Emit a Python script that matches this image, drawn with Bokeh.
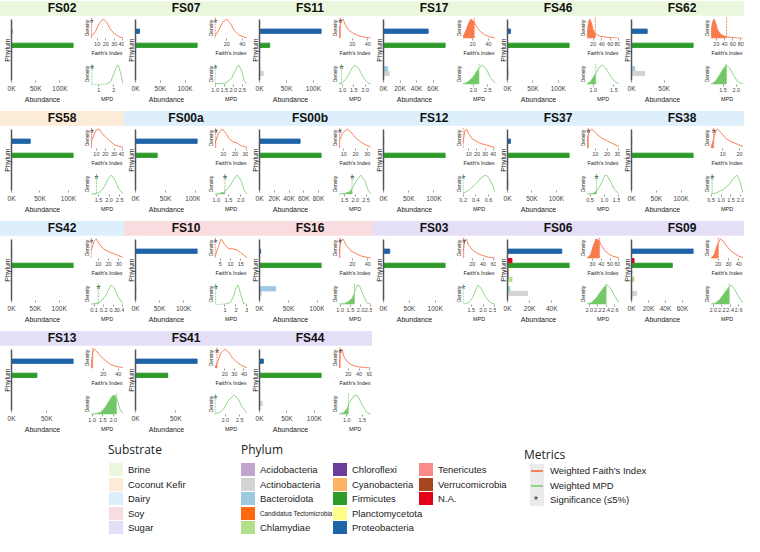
from bokeh.plotting import figure
from bokeh.models import FactorRange, Range1d, FixedTicker, Span, Div, ColumnDataSource, LinearAxis
from bokeh.layouts import row, column
from bokeh.embed import file_html
from bokeh.resources import INLINE
from bokeh.core.properties import value

# ---------------- data ----------------
samples = ["FS02", "FS07", "FS11", "FS17", "FS46", "FS62",
           "FS58", "FS00a", "FS00b", "FS12", "FS37", "FS38",
           "FS42", "FS10", "FS16", "FS03", "FS06", "FS09",
           "FS13", "FS41", "FS44"]
sample_substrate = ["Brine", "Brine", "Brine", "Brine", "Brine", "Brine",
                    "Coconut Kefir", "Dairy", "Dairy", "Dairy", "Dairy", "Dairy",
                    "Dairy", "Soy", "Soy", "Sugar", "Sugar", "Sugar",
                    "Sugar", "Sugar", "Sugar"]
substrates = ["Brine", "Coconut Kefir", "Dairy", "Soy", "Sugar"]
substrate_colors = ["#EAF7DC", "#FCEBD7", "#DCEFFA", "#F9DCDF", "#E4DEF7"]

# phyla, bottom -> top on the bar charts
phyla = ["Acidobacteria", "Actinobacteria", "Bacteroidota", "Candidatus Tectomicrobia",
         "Chlamydiae", "Chloroflexi", "Cyanobacteria", "Firmicutes", "N.A.",
         "Planctomycetota", "Proteobacteria", "Tenericutes", "Verrucomicrobia"]
phylum_colors = ["#C2A5CF", "#D3D3D3", "#9ECAE1", "#FF6A10", "#B2DF8A", "#6A3D9A",
                 "#FDB462", "#2E9A2A", "#E3001B", "#FFFF88", "#1F63A8", "#FB8A8A", "#A8461E"]

# abundance (thousands of reads), one value per sample in `samples` order
acidobacteria   = [0, 0, 0, 0, 0, 0, 0, 0, 0, 0, 0, 0, 0, 0, 0, 0, 0, 0, 0, 0, 0]
actinobacteria  = [0, 0.5, 7, 7, 2, 20, 0, 0, 0.3, 0.3, 1.5, 0, 0, 0.3, 3, 0.5, 18, 6, 0.3, 0, 5]
bacteroidota    = [0, 0, 0.5, 5, 0.3, 5, 0, 0, 0, 0, 0.3, 0, 0, 1, 28, 0, 2, 0, 0, 0, 0.3]
candidatus      = [0, 0, 0, 0, 0, 0, 0, 0, 0, 0, 0, 0, 0, 0, 0, 0, 0, 0, 0, 0, 0]
chlamydiae      = [0, 0, 0, 0, 0, 0, 0, 0, 0, 0, 0, 0, 0, 0, 0, 0, 4, 3, 0, 0, 0]
chloroflexi     = [0, 0, 0, 0, 0, 0, 0, 0, 0, 0, 0, 0, 0, 0, 0, 0, 0.5, 0, 0, 0, 0]
cyanobacteria   = [0, 0, 0, 0, 0, 0, 0, 0, 0, 0, 0, 0, 0, 0, 0, 0, 1, 0, 0, 0, 0]
firmicutes      = [128, 125, 19, 75, 122, 95, 109, 36, 84, 123, 127, 125, 130, 0, 107, 120, 56, 48, 36, 40, 113]
not_assigned    = [0, 0, 0, 0, 0, 0, 0, 0, 0, 0, 0, 0, 0, 0, 0, 0, 4, 3, 0, 0, 0]
planctomycetota = [0, 0, 0, 0, 0, 0, 0, 0, 0, 0, 0, 0, 0, 0, 0, 0, 0, 0, 0, 0, 0]
proteobacteria  = [1, 8, 115, 54, 6, 24, 33, 103, 55, 0.3, 6, 0.3, 0.3, 129, 2, 12, 49, 73, 88, 77, 7]
tenericutes     = [0, 0, 0, 0, 0, 0, 0, 0, 0, 0, 0, 0, 0, 0, 0, 0, 0, 0, 0, 0, 0]
verrucomicrobia = [0, 0, 0, 0, 0, 0, 0, 0, 0, 0, 0, 0, 0, 0, 0, 0, 0, 0, 0, 0, 0]
abundance_by_phylum = [acidobacteria, actinobacteria, bacteroidota, candidatus, chlamydiae,
                       chloroflexi, cyanobacteria, firmicutes, not_assigned, planctomycetota,
                       proteobacteria, tenericutes, verrucomicrobia]

abund_ticks = {
    "FS02": ["0K", "50K", "100K"], "FS07": ["0K", "50K", "100K"], "FS11": ["0K", "50K", "100K"],
    "FS17": ["0K", "20K", "40K", "60K"], "FS46": ["0K", "50K", "100K"], "FS62": ["0K", "50K"],
    "FS58": ["0K", "50K", "100K"], "FS00a": ["0K", "50K", "100K"], "FS00b": ["0K", "20K", "40K", "60K", "80K"],
    "FS12": ["0K", "50K", "100K"], "FS37": ["0K", "50K", "100K"], "FS38": ["0K", "50K", "100K"],
    "FS42": ["0K", "50K", "100K"], "FS10": ["0K", "50K", "100K"], "FS16": ["0K", "50K", "100K"],
    "FS03": ["0K", "50K", "100K"], "FS06": ["0K", "20K", "40K"], "FS09": ["0K", "20K", "40K", "60K"],
    "FS13": ["0K", "50K"], "FS41": ["0K", "50K"], "FS44": ["0K", "50K", "100K"],
}

# Weighted Faith's index null densities (x, relative density), observed value, significance
faith_x = {
    "FS02": [3, 8, 12, 17, 21, 25, 30, 35, 40],
    "FS07": [5, 10, 15, 20, 25, 30, 35, 40, 46],
    "FS11": [3, 6, 8, 11, 15, 20, 25, 30, 38, 44],
    "FS17": [8, 12, 15, 18, 21, 25, 30, 35, 42, 48],
    "FS46": [6, 9, 12, 16, 20, 25, 35, 50, 65, 80],
    "FS62": [7, 10, 14, 18, 23, 30, 40, 55, 70, 85],
    "FS58": [4, 7, 10, 13, 16, 20, 25, 30, 35, 40],
    "FS00a": [3, 6, 9, 12, 15, 18, 21, 25, 30],
    "FS00b": [6, 9, 13, 16, 20, 24, 28, 33],
    "FS12": [3, 5, 7, 10, 14, 20, 25, 30, 36, 42],
    "FS37": [3, 5, 7, 10, 15, 20, 25, 30],
    "FS38": [3, 4.5, 6, 7, 9, 12, 15, 18, 22],
    "FS42": [3, 6, 8, 11, 15, 20, 25, 30, 34],
    "FS10": [2.5, 4, 5.5, 7, 9, 11, 13, 15, 18],
    "FS16": [3, 5, 8, 12, 18, 25, 32, 40, 44],
    "FS03": [3, 6, 9, 13, 20, 30, 40, 50, 62],
    "FS06": [24, 28, 31, 34, 37, 40, 44, 48, 53, 60],
    "FS09": [13, 16, 19, 22, 25, 28, 32, 36, 40, 44],
    "FS13": [4, 6, 8, 11, 15, 20, 25, 30, 38, 46],
    "FS41": [10, 13, 16, 20, 24, 28, 32, 36, 40, 43],
    "FS44": [3, 5, 7, 9, 12, 18, 25, 35, 50, 62],
}
faith_y = {
    "FS02": [0.1, 0.35, 0.75, 1.0, 0.85, 0.5, 0.25, 0.1, 0.03],
    "FS07": [0.15, 0.45, 0.85, 1.0, 0.75, 0.4, 0.2, 0.1, 0.03],
    "FS11": [0.5, 0.95, 1.0, 0.7, 0.45, 0.3, 0.2, 0.12, 0.05, 0.02],
    "FS17": [0.1, 0.45, 0.8, 1.0, 0.9, 0.6, 0.35, 0.2, 0.08, 0.03],
    "FS46": [0.2, 0.8, 1.0, 0.8, 0.45, 0.25, 0.12, 0.07, 0.04, 0.01],
    "FS62": [0.3, 0.8, 1.0, 0.8, 0.45, 0.22, 0.12, 0.06, 0.03, 0.01],
    "FS58": [0.3, 0.7, 0.95, 1.0, 0.8, 0.6, 0.4, 0.2, 0.12, 0.06],
    "FS00a": [0.3, 0.8, 1.0, 0.8, 0.5, 0.35, 0.3, 0.15, 0.05],
    "FS00b": [0.4, 0.8, 1.0, 0.85, 0.55, 0.35, 0.2, 0.08],
    "FS12": [0.3, 0.9, 1.0, 0.75, 0.5, 0.35, 0.25, 0.2, 0.12, 0.05],
    "FS37": [0.5, 0.9, 1.0, 0.8, 0.55, 0.4, 0.25, 0.1],
    "FS38": [0.05, 0.5, 0.95, 1.0, 0.8, 0.5, 0.35, 0.25, 0.1],
    "FS42": [0.4, 0.9, 1.0, 0.75, 0.5, 0.35, 0.25, 0.15, 0.05],
    "FS10": [0.1, 0.6, 1.0, 0.75, 0.5, 0.5, 0.45, 0.3, 0.05],
    "FS16": [0.3, 0.9, 1.0, 0.7, 0.4, 0.25, 0.12, 0.05, 0.02],
    "FS03": [0.4, 0.9, 1.0, 0.7, 0.45, 0.25, 0.15, 0.07, 0.02],
    "FS06": [0.02, 0.2, 0.65, 1.0, 0.95, 0.7, 0.4, 0.25, 0.12, 0.04],
    "FS09": [0.02, 0.2, 0.7, 1.0, 0.9, 0.65, 0.4, 0.25, 0.12, 0.05],
    "FS13": [0.2, 0.8, 1.0, 0.9, 0.7, 0.5, 0.35, 0.2, 0.1, 0.05],
    "FS41": [0.05, 0.4, 0.8, 1.0, 0.85, 0.55, 0.35, 0.2, 0.1, 0.05],
    "FS44": [0.3, 0.8, 1.0, 0.95, 0.6, 0.35, 0.2, 0.1, 0.05, 0.02],
}
faith_obs = {"FS02": 3.5, "FS07": 5, "FS11": 4.5, "FS17": 22, "FS46": 25, "FS62": 45,
             "FS58": 4.5, "FS00a": 3.5, "FS00b": 6.5, "FS12": 3, "FS37": 4, "FS38": 4.5,
             "FS42": 3, "FS10": 2.5, "FS16": 4, "FS03": 4, "FS06": 38, "FS09": 20,
             "FS13": 6, "FS41": 12, "FS44": 5}
faith_sig = {"FS02": 1, "FS07": 1, "FS11": 1, "FS17": 0, "FS46": 0, "FS62": 0,
             "FS58": 1, "FS00a": 1, "FS00b": 1, "FS12": 0, "FS37": 1, "FS38": 1,
             "FS42": 1, "FS10": 1, "FS16": 1, "FS03": 1, "FS06": 0, "FS09": 0,
             "FS13": 0, "FS41": 1, "FS44": 1}
faith_ticks = {
    "FS02": ["10", "20", "30", "40"], "FS07": ["20", "40"], "FS11": ["20", "40"],
    "FS17": ["20", "40"], "FS46": ["20", "40", "60", "80"], "FS62": ["20", "40", "60", "80"],
    "FS58": ["10", "20", "30", "40"], "FS00a": ["10", "20", "30"], "FS00b": ["10", "20", "30"],
    "FS12": ["10", "20", "30", "40"], "FS37": ["10", "20", "30"], "FS38": ["10", "20"],
    "FS42": ["10", "20", "30"], "FS10": ["5", "10", "15"], "FS16": ["20", "40"],
    "FS03": ["20", "40", "60"], "FS06": ["30", "40", "50", "60"], "FS09": ["20", "30", "40"],
    "FS13": ["20", "40"], "FS41": ["20", "30", "40"], "FS44": ["20", "40", "60"],
}

# Weighted MPD null densities
mpd_x = {
    "FS02": [0.5, 1.0, 1.5, 1.8, 2.0, 2.2, 2.3, 2.45, 2.6],
    "FS07": [1.0, 1.3, 1.6, 1.9, 2.1, 2.3, 2.45, 2.6, 2.75],
    "FS11": [0.85, 1.0, 1.2, 1.4, 1.55, 1.7, 1.9, 2.1, 2.25],
    "FS17": [1.65, 1.8, 2.0, 2.15, 2.3, 2.45, 2.6, 2.75],
    "FS46": [0.85, 0.95, 1.05, 1.15, 1.22, 1.3, 1.4, 1.5, 1.62],
    "FS62": [1.05, 1.2, 1.35, 1.5, 1.62, 1.75, 1.9, 2.05, 2.25],
    "FS58": [1.15, 1.4, 1.6, 1.8, 1.95, 2.1, 2.25, 2.45, 2.65],
    "FS00a": [0.95, 1.1, 1.3, 1.5, 1.7, 1.85, 2.0, 2.15, 2.25],
    "FS00b": [1.25, 1.5, 1.75, 1.9, 2.05, 2.25, 2.45, 2.6, 2.72],
    "FS12": [0.2, 0.3, 0.4, 0.5, 0.55, 0.6, 0.66, 0.7],
    "FS37": [0.4, 0.6, 0.75, 0.9, 1.0, 1.08, 1.2, 1.35, 1.5],
    "FS38": [0.5, 0.8, 1.1, 1.4, 1.6, 1.8, 1.95, 2.1],
    "FS42": [0.07, 0.12, 0.17, 0.22, 0.26, 0.28, 0.31, 0.35, 0.4],
    "FS10": [0.1, 0.5, 1.0, 1.5, 1.8, 2.0, 2.2, 2.45, 2.7, 3.0],
    "FS16": [0.95, 1.2, 1.4, 1.6, 1.75, 1.85, 1.95, 2.1, 2.3, 2.5],
    "FS03": [1.2, 1.4, 1.55, 1.7, 1.78, 1.9, 2.1, 2.3, 2.5],
    "FS06": [1.95, 2.05, 2.15, 2.25, 2.35, 2.42, 2.5, 2.6, 2.7],
    "FS09": [1.95, 2.05, 2.15, 2.25, 2.35, 2.42, 2.5, 2.6, 2.7],
    "FS13": [0.95, 1.2, 1.4, 1.6, 1.8, 1.95, 2.05, 2.15, 2.3, 2.45],
    "FS41": [1.65, 1.8, 1.95, 2.1, 2.3, 2.45, 2.6, 2.75],
    "FS44": [0.75, 0.9, 1.0, 1.1, 1.25, 1.35, 1.5, 1.65, 1.78],
}
mpd_y = {
    "FS02": [0.0, 0.0, 0.02, 0.15, 0.55, 0.95, 1.0, 0.6, 0.05],
    "FS07": [0.05, 0.05, 0.08, 0.3, 0.7, 1.0, 0.75, 0.2, 0.02],
    "FS11": [0.03, 0.1, 0.35, 0.8, 1.0, 0.85, 0.4, 0.1, 0.02],
    "FS17": [0.03, 0.12, 0.4, 0.75, 1.0, 0.8, 0.35, 0.08],
    "FS46": [0.03, 0.2, 0.55, 0.9, 1.0, 0.85, 0.5, 0.2, 0.03],
    "FS62": [0.02, 0.15, 0.45, 0.8, 1.0, 0.85, 0.45, 0.15, 0.02],
    "FS58": [0.02, 0.05, 0.15, 0.45, 0.8, 1.0, 0.8, 0.3, 0.05],
    "FS00a": [0.02, 0.05, 0.12, 0.35, 0.75, 1.0, 0.75, 0.2, 0.03],
    "FS00b": [0.03, 0.05, 0.15, 0.4, 0.7, 1.0, 0.7, 0.2, 0.03],
    "FS12": [0.05, 0.25, 0.55, 0.9, 1.0, 0.9, 0.5, 0.15],
    "FS37": [0.02, 0.05, 0.2, 0.6, 0.95, 1.0, 0.7, 0.25, 0.03],
    "FS38": [0.02, 0.1, 0.25, 0.5, 0.8, 1.0, 0.7, 0.1],
    "FS42": [0.02, 0.05, 0.15, 0.45, 0.85, 1.0, 0.85, 0.4, 0.05],
    "FS10": [0.0, 0.0, 0.02, 0.1, 0.45, 0.85, 1.0, 0.5, 0.05, 0.0],
    "FS16": [0.02, 0.05, 0.15, 0.35, 0.75, 1.0, 0.95, 0.55, 0.1, 0.01],
    "FS03": [0.02, 0.1, 0.35, 0.8, 1.0, 0.85, 0.4, 0.1, 0.01],
    "FS06": [0.02, 0.1, 0.3, 0.6, 0.9, 1.0, 0.85, 0.45, 0.1],
    "FS09": [0.02, 0.08, 0.25, 0.55, 0.85, 1.0, 0.8, 0.4, 0.08],
    "FS13": [0.02, 0.05, 0.12, 0.35, 0.7, 0.95, 1.0, 0.9, 0.3, 0.05],
    "FS41": [0.05, 0.1, 0.3, 0.7, 1.0, 0.8, 0.35, 0.08],
    "FS44": [0.02, 0.1, 0.3, 0.65, 1.0, 0.95, 0.5, 0.1, 0.02],
}
mpd_obs = {"FS02": 0.55, "FS07": 1.0, "FS11": 0.95, "FS17": 2.2, "FS46": 1.06, "FS62": 1.63,
           "FS58": 1.4, "FS00a": 1.35, "FS00b": 1.85, "FS12": 0.2, "FS37": 0.72, "FS38": 0.55,
           "FS42": 0.145, "FS10": 0.15, "FS16": 1.7, "FS03": 1.15, "FS06": 2.4, "FS09": 2.38,
           "FS13": 2.15, "FS41": 1.65, "FS44": 1.05}
mpd_sig = {"FS02": 1, "FS07": 1, "FS11": 1, "FS17": 0, "FS46": 0, "FS62": 0,
           "FS58": 1, "FS00a": 1, "FS00b": 1, "FS12": 1, "FS37": 1, "FS38": 1,
           "FS42": 1, "FS10": 1, "FS16": 0, "FS03": 1, "FS06": 0, "FS09": 0,
           "FS13": 0, "FS41": 1, "FS44": 0}
mpd_ticks = {
    "FS02": ["1", "2"], "FS07": ["1.0", "1.5", "2.0", "2.5"], "FS11": ["1.0", "1.5", "2.0"],
    "FS17": ["2.0", "2.5"], "FS46": ["1.0", "1.5"], "FS62": ["1.5", "2.0"],
    "FS58": ["1.5", "2.0", "2.5"], "FS00a": ["1.0", "1.5", "2.0"], "FS00b": ["1.5", "2.0", "2.5"],
    "FS12": ["0.2", "0.4", "0.6"], "FS37": ["0.5", "1.0", "1.5"], "FS38": ["0.5", "1.0", "1.5", "2.0"],
    "FS42": ["0.1", "0.2", "0.3", "0.4"], "FS10": ["1", "2", "3"], "FS16": ["1.0", "1.5", "2.0", "2.5"],
    "FS03": ["1.5", "2.0", "2.5"], "FS06": ["2.0", "2.2", "2.4", "2.6"], "FS09": ["2.0", "2.2", "2.4", "2.6"],
    "FS13": ["1.0", "1.5", "2.0", "2.5"], "FS41": ["2.0", "2.5"], "FS44": ["1.0", "1.5"],
}

FAITH_LINE, FAITH_FILL = "#F8825C", "#F97A4B"
MPD_LINE, MPD_FILL = "#90D68A", "#72C766"
FONT = "Liberation Sans"

PANEL_W = 124
BAR_W = 76
DEN_W = PANEL_W - BAR_W
HEAD_H = 15
BODY_H = 95


def style_axis(ax):
    ax.axis_label_text_font = FONT
    ax.major_label_text_font = FONT
    ax.axis_label_text_font_style = "normal"
    ax.axis_label_text_color = "#222222"
    ax.major_label_text_color = "#444444"


def bar_fig(i, name):
    ys, rights, cols = [], [], []
    for ph, col, arr in zip(phyla, phylum_colors, abundance_by_phylum):
        if arr[i] > 0:
            ys.append(ph)
            rights.append(arr[i] * 1000)
            cols.append(col)
    src = ColumnDataSource(dict(y=ys, right=rights, color=cols))
    xmax = max(rights)
    p = figure(width=BAR_W, height=BODY_H, y_range=FactorRange(factors=phyla),
               x_range=Range1d(0, xmax), y_axis_type=None,
               output_backend="svg", toolbar_location=None,
               min_border_left=10, min_border_right=3, min_border_top=4, min_border_bottom=30)
    p.outline_line_color = None
    p.hbar(y="y", left=0, right="right", height=0.9, color="color", source=src)
    p.grid.visible = False
    yax = LinearAxis(ticker=FixedTicker(ticks=[]), axis_label="Phylum",
                     axis_label_text_font_size="7px", axis_label_standoff=1,
                     axis_line_color="#555555", axis_line_width=1.5,
                     major_tick_line_color=None, minor_tick_line_color=None)
    style_axis(yax)
    p.add_layout(yax, "left")
    ticks = abund_ticks[name]
    vals = [float(t[:-1]) * 1000 for t in ticks]
    xa = p.xaxis[0]
    style_axis(xa)
    xa.ticker = FixedTicker(ticks=vals)
    xa.major_label_overrides = {v: t for v, t in zip(vals, ticks)}
    xa.major_label_text_font_size = "6.5px"
    xa.axis_label = "Abundance"
    xa.axis_label_text_font_size = "7px"
    xa.axis_label_standoff = 1
    xa.major_label_standoff = 2
    xa.axis_line_color = None
    xa.major_tick_line_color = "#999999"
    xa.major_tick_out = 2
    xa.major_tick_in = 0
    xa.minor_tick_line_color = None
    return p


def dens_fig(xs, ys, obs, sig, ticks, label, line_col, fill_col, height, top):
    p = figure(width=DEN_W, height=height, y_range=Range1d(0, 1.08), y_axis_type=None,
               output_backend="svg", toolbar_location=None,
               min_border_left=14, min_border_right=1, min_border_top=top, min_border_bottom=19)
    p.outline_line_color = None
    p.x_range.range_padding = 0.04
    # shaded area left of the observed value
    fx = [x for x in xs if x <= obs]
    fy = [y for x, y in zip(xs, ys) if x <= obs]
    if fx and obs < xs[-1]:
        k = len(fx)
        t = (obs - xs[k - 1]) / (xs[k] - xs[k - 1])
        fx.append(obs)
        fy.append(ys[k - 1] + t * (ys[k] - ys[k - 1]))
        p.varea(x=fx, y1=[0] * len(fx), y2=fy, fill_color=fill_col, fill_alpha=1.0)
    p.line(xs, ys, line_color=line_col, line_width=1)
    p.add_layout(Span(location=obs, dimension="height", line_color=line_col,
                      line_dash="2 1", line_width=1))
    if sig:
        p.text(x=[obs], y=[1.08], text=["*"], text_font=value(FONT), text_font_size="10px",
               text_align="center", text_baseline="top", text_color="#111111")
    else:
        p.scatter(x=[obs], y=[0.0], size=0, alpha=0)
    p.xgrid.visible = False
    p.ygrid.ticker = FixedTicker(ticks=[0.2, 0.4, 0.6, 0.8, 1.0])
    p.ygrid.grid_line_color = "#BBBBBB"
    p.ygrid.grid_line_dash = "1 2"
    p.ygrid.grid_line_width = 0.7
    yax = LinearAxis(ticker=FixedTicker(ticks=[]), axis_label="Density",
                     axis_label_text_font_size="5px", axis_label_standoff=1,
                     axis_line_color=None, major_tick_line_color=None, minor_tick_line_color=None)
    style_axis(yax)
    p.add_layout(yax, "left")
    vals = [float(t) for t in ticks]
    xa = p.xaxis[0]
    style_axis(xa)
    xa.ticker = FixedTicker(ticks=vals)
    xa.major_label_overrides = {v: t for v, t in zip(vals, ticks)}
    xa.major_label_text_font_size = "5.5px"
    xa.major_label_standoff = 1
    xa.axis_label = label
    xa.axis_label_text_font_size = "5.5px"
    xa.axis_label_standoff = 1
    xa.axis_line_color = None
    xa.major_tick_line_color = "#999999"
    xa.major_tick_out = 2
    xa.major_tick_in = 0
    xa.minor_tick_line_color = None
    return p


def panel(i):
    name = samples[i]
    col = substrate_colors[substrates.index(sample_substrate[i])]
    head = Div(text=(f'<div style="width:{PANEL_W}px;height:{HEAD_H}px;line-height:{HEAD_H}px;'
                     f'background:{col};text-align:center;font-family:{FONT};font-weight:bold;'
                     f'font-size:12px;color:#111;">{name}</div>'),
               width=PANEL_W, height=HEAD_H, margin=(0, 0, 0, 0))
    b = bar_fig(i, name)
    f = dens_fig(faith_x[name], faith_y[name], faith_obs[name], faith_sig[name], faith_ticks[name],
                 "Faith's Index", FAITH_LINE, FAITH_FILL, 43, 2)
    m = dens_fig(mpd_x[name], mpd_y[name], mpd_obs[name], mpd_sig[name], mpd_ticks[name],
                 "MPD", MPD_LINE, MPD_FILL, 46, 5)
    return column(head, row(b, column(f, m)))


rows = []
for r in range(4):
    idx = list(range(r * 6, min(r * 6 + 6, len(samples))))
    rows.append(row(*[panel(i) for i in idx]))

# ---------------- legend ----------------
metric_labels = ["Weighted Faith's Index", "Weighted MPD", "Significance (\u22645%)"]


def box(x, y, w, h, color):
    return (f'<div style="position:absolute;left:{x}px;top:{y}px;width:{w}px;height:{h}px;'
            f'background:{color};"></div>')


def txt(x, y, s, size=9.5, font=FONT, lh=13):
    return (f'<div style="position:absolute;left:{x}px;top:{y}px;font-family:{font};'
            f'font-size:{size}px;line-height:{lh}px;white-space:nowrap;color:#222;">{s}</div>')


ROW0, DY = 23, 14.5
parts = []
parts.append(txt(108, 1, "Substrate", 12, "Open Sans", 18))
for k, (s, c) in enumerate(zip(substrates, substrate_colors)):
    parts.append(box(109, ROW0 + k * DY, 14, 13, c))
    parts.append(txt(128, ROW0 + k * DY, s))
parts.append(txt(241, 1, "Phylum", 12, "Open Sans", 18))
col_x = [241, 333, 419]
legend_order = ["Acidobacteria", "Actinobacteria", "Bacteroidota", "Candidatus Tectomicrobia",
                "Chlamydiae", "Chloroflexi", "Cyanobacteria", "Firmicutes", "Planctomycetota",
                "Proteobacteria", "Tenericutes", "Verrucomicrobia", "N.A."]
for k, ph in enumerate(legend_order):
    cx = col_x[k // 5]
    cy = ROW0 + (k % 5) * DY
    parts.append(box(cx, cy, 14, 13, phylum_colors[phyla.index(ph)]))
    size = 6.3 if ph.startswith("Candidatus") else 9.5
    parts.append(txt(cx + 19, cy, ph, size))
parts.append(txt(524, 6, "Metrics", 12, "Open Sans", 18))
parts.append(box(530, ROW0 + 1, 14, 42, "#EBEBEB"))
mk_y = [ROW0 + 1, ROW0 + 16, ROW0 + 30]
parts.append(box(531, mk_y[0] + 6, 12, 1.5, FAITH_LINE))
parts.append(box(531, mk_y[1] + 6, 12, 1.5, MPD_LINE))
parts.append(txt(534, mk_y[2] + 1, "*", 10))
for k, s in enumerate(metric_labels):
    parts.append(txt(550, mk_y[k], s))

legend = Div(text=('<div style="position:relative;width:744px;height:96px;">' + "".join(parts) + "</div>"),
             width=744, height=96, margin=(0, 0, 0, 0))

layout = column(*rows, legend)
open("out.html", "w").write(file_html(layout, INLINE))
